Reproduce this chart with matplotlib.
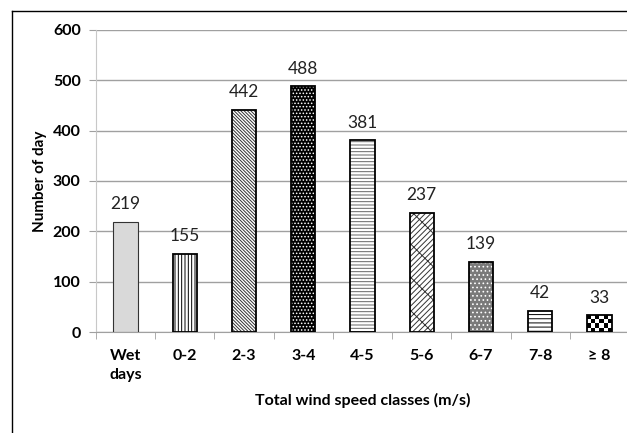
import numpy as np
import matplotlib.pyplot as plt
from matplotlib.lines import Line2D

plt.rcParams['font.family'] = ['Lato', 'DejaVu Sans']
plt.rcParams['hatch.linewidth'] = 0.7

classes = ['Wet\ndays', '0-2', '2-3', '3-4', '4-5', '5-6', '6-7', '7-8', '\u2265 8']
days = [219, 155, 442, 488, 381, 237, 139, 42, 33]

# fill style per bar: face colour, hatch colour, hatch pattern
faces = ['#d9d9d9', 'white', 'white', 'black', 'white', 'white', '#7a7a7a', 'white', 'white']
hatch_cols = ['#d9d9d9', 'black', '#333333', 'white', '#666666', '#333333', 'white', 'black', 'black']
hatches = ['', '|||||', '\\' * 10, '.....', '-----', '/' * 6 + '\\', '....', '----', '']

fig = plt.figure(figsize=(6.27, 4.33), dpi=100)
ax = fig.add_axes([96 / 627, 101 / 433, 533 / 627, 302 / 433])

x = np.arange(len(classes))
w = 0.41

ax.set_axisbelow(True)
ax.yaxis.grid(True, color='#a0a0a0', linewidth=1.0)

fill = ax.bar(x, days, width=w, linewidth=0, zorder=2)
for b, fc, hc, h in zip(fill, faces, hatch_cols, hatches):
    b.set_facecolor(fc)
    b.set_edgecolor(hc)
    b.set_hatch(h)

# checkerboard fill for the last class
last = fill[-1]
checks = np.indices((4, 6)).sum(axis=0) % 2
im = ax.imshow(checks, cmap='gray', interpolation='nearest', aspect='auto',
               extent=(last.get_x(), last.get_x() + last.get_width(), 0, last.get_height()),
               zorder=2.5)
im.set_clip_path(last)

outline = ax.bar(x, days, width=w, fill=False, edgecolor='black', linewidth=1.3, zorder=3)
outline[0].set_linewidth(0.8)
outline[0].set_edgecolor('#333333')

for xi, v in zip(x, days):
    ax.annotate(str(v), (xi, v), xytext=(0, 7), textcoords='offset points',
                ha='center', va='bottom', fontsize=12.5, color='#222222')

ax.set_xlim(-0.5, len(classes) - 0.5)
ax.set_ylim(0, 600)
ax.set_yticks(range(0, 601, 100))
ax.set_xticks(x)
ax.set_xticklabels(classes, fontweight='bold', fontsize=11.5, linespacing=1.5, va='top')
ax.set_xticks(np.arange(-0.5, len(classes), 1), minor=True)
ax.tick_params(axis='x', which='major', length=0, pad=12)
ax.tick_params(axis='x', which='minor', length=5, color='#a0a0a0', direction='out')
ax.tick_params(axis='y', length=5, color='#a0a0a0', pad=6, labelsize=11.5)
for t in ax.get_yticklabels():
    t.set_fontweight('bold')

for s in ['top', 'right']:
    ax.spines[s].set_visible(False)
ax.spines['left'].set_color('#c8c8c8')
ax.spines['bottom'].set_color('#a0a0a0')

ax.set_ylabel('Number of day', fontweight='bold', fontsize=11, labelpad=4)
ax.set_xlabel('Total wind speed classes (m/s)', fontweight='bold', fontsize=11.5, labelpad=8)

# chart border (left and top edges)
fig.add_artist(Line2D([12 / 627, 12 / 627], [0, 1 - 11 / 433], color='black', linewidth=1))
fig.add_artist(Line2D([12 / 627, 1], [1 - 11 / 433, 1 - 11 / 433], color='black', linewidth=1))

fig.savefig('out.png', dpi=100)
